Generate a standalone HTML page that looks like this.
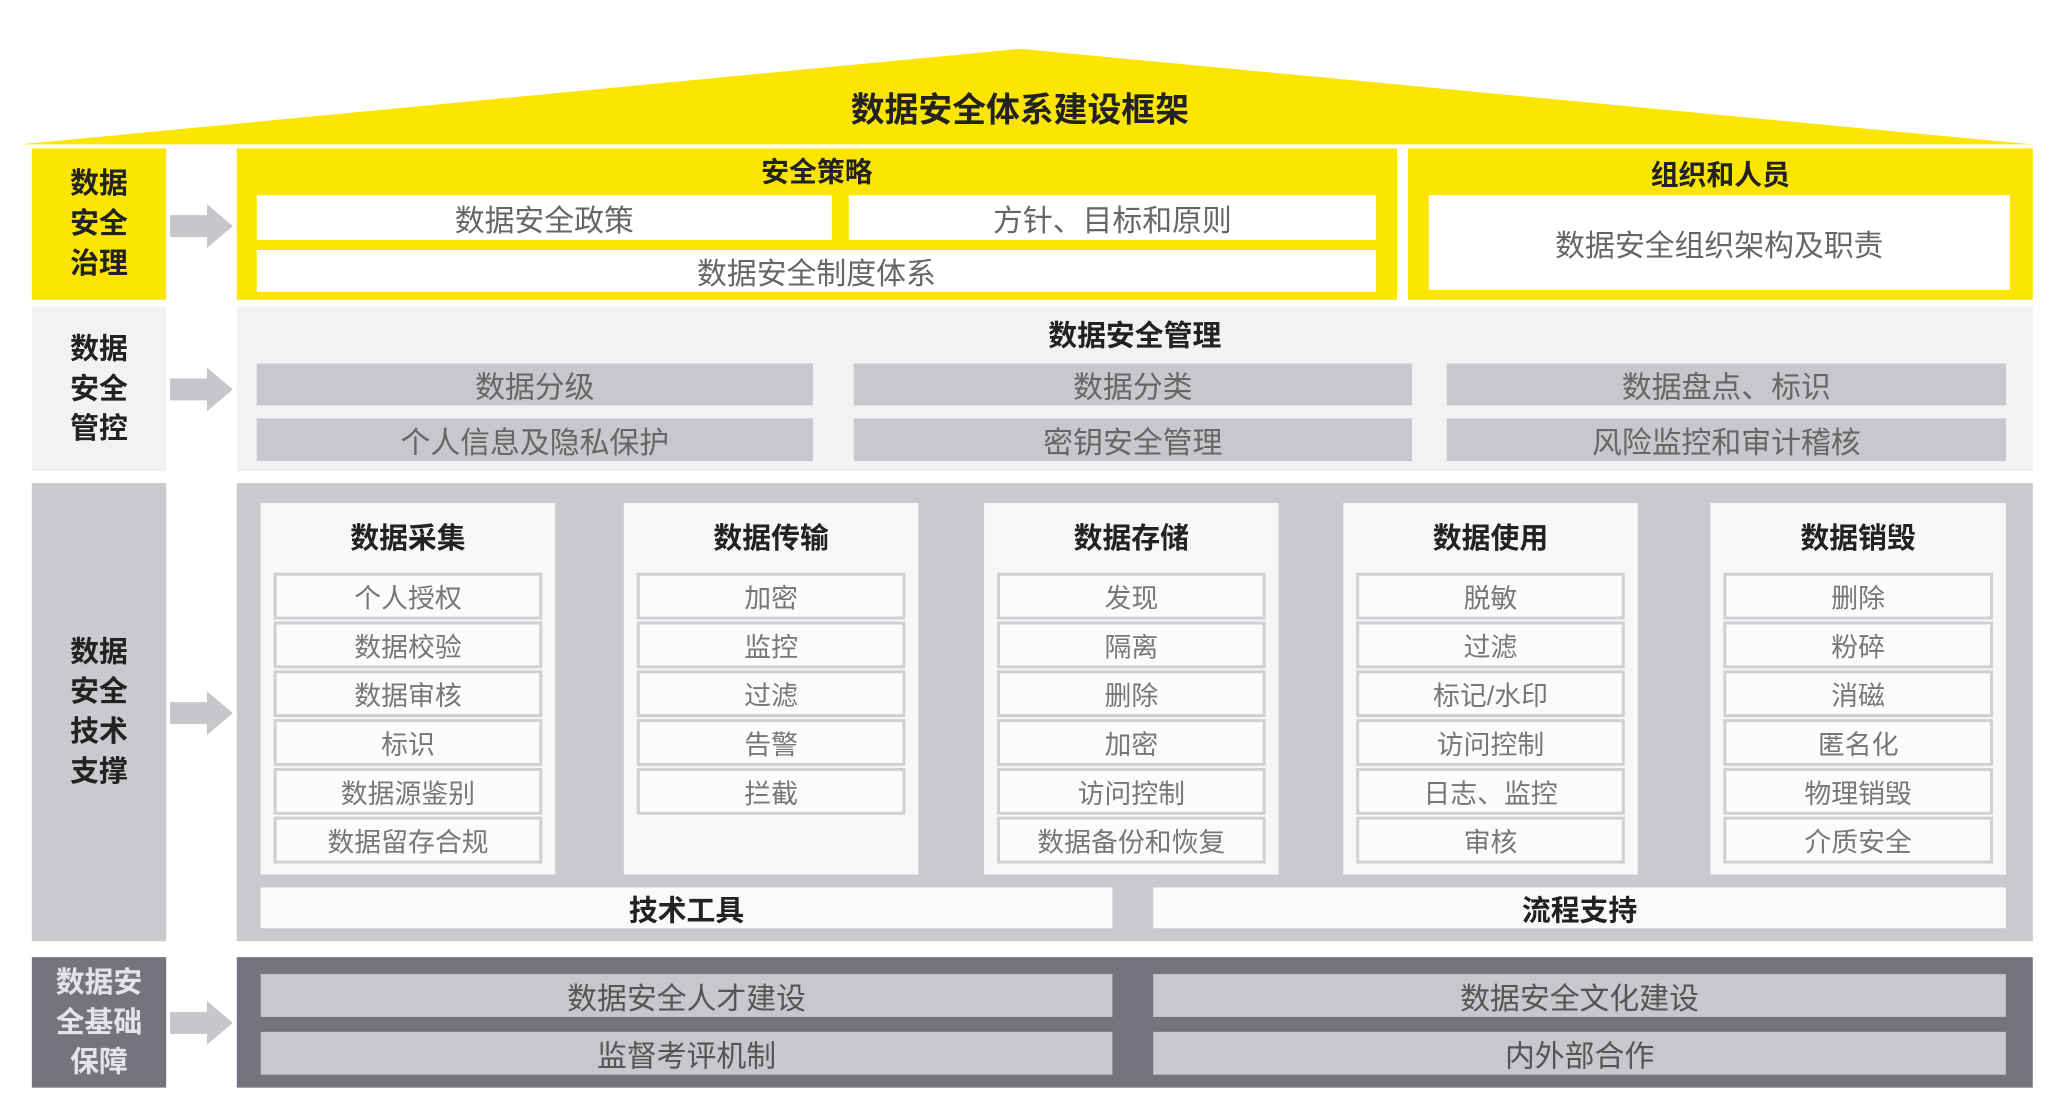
<!DOCTYPE html>
<html><head><meta charset="utf-8"><style>
body{margin:0;width:2063px;height:1111px;background:#fff;position:relative;overflow:hidden;font-family:"Liberation Sans","Noto Sans CJK SC",sans-serif}
#wrap{position:absolute;left:0;top:0;width:2063px;height:1111px;transform:scale(0.995,0.996);transform-origin:0 0;display:block}
#wrap div{position:absolute;box-sizing:border-box;display:flex;align-items:center;justify-content:center;text-align:center}
.lab{left:32px;width:135px;font-size:29px;font-weight:bold;line-height:40px;color:#222}
.w{background:#fff;color:#666;font-size:30px}
.g{background:#c7c7cc;color:#666;font-size:30px}
.t{font-weight:bold;font-size:29px;color:#222}
.st{background:#f7f7f8;top:505px;height:373px}
.c{background:#fbfbfb;border:3px solid #d0d0d4;height:47px;font-size:27px;color:#777}
</style></head><body><div id="wrap">
<svg style="position:absolute;left:0;top:0" width="2063" height="1111">
<polygon points="20,145 1025,49 2043,145" fill="#fce500"/>
<g fill="#c6c6cb">
<rect x="171" y="216" width="40" height="22"/><polygon points="208,205 234,227 208,249"/>
<rect x="171" y="380" width="40" height="22"/><polygon points="208,369 234,391 208,413"/>
<rect x="171" y="705" width="40" height="22"/><polygon points="208,694 234,716 208,738"/>
<rect x="171" y="1016" width="40" height="22"/><polygon points="208,1005 234,1027 208,1049"/>
</g>
<g fill="#6e6e76">
<polygon points="568,662 592,662 622,687 592,712 568,712 596,687"/>
<polygon points="928,662 952,662 982,687 952,712 928,712 956,687"/>
<polygon points="1290,662 1314,662 1344,687 1314,712 1290,712 1318,687"/>
<polygon points="1656,662 1680,662 1710,687 1680,712 1656,712 1684,687"/>
</g>
</svg>
<div style="left:700px;top:85px;width:650px;height:44px;font-size:34px;font-weight:bold;color:#222">数据安全体系建设框架</div>

<div class="lab" style="top:149px;height:152px;background:#fce500">数据<br>安全<br>治理</div>
<div class="lab" style="top:308px;height:165px;background:#f2f2f4">数据<br>安全<br>管控</div>
<div class="lab" style="top:485px;height:460px;background:#c9c9ce">数据<br>安全<br>技术<br>支撑</div>
<div class="lab" style="top:961px;height:131px;background:#74747c;color:#e4e4e8">数据安<br>全基础<br>保障</div>

<div style="left:238px;top:149px;width:1166px;height:152px;background:#fce500"></div>
<div class="t" style="left:238px;top:152px;width:1166px;height:38px;font-size:28px">安全策略</div>
<div class="w" style="left:258px;top:196px;width:578px;height:45px">数据安全政策</div>
<div class="w" style="left:853px;top:196px;width:530px;height:45px">方针、目标和原则</div>
<div class="w" style="left:258px;top:251px;width:1125px;height:42px">数据安全制度体系</div>
<div style="left:1415px;top:149px;width:628px;height:152px;background:#fce500"></div>
<div class="t" style="left:1415px;top:155px;width:628px;height:38px;font-size:28px">组织和人员</div>
<div class="w" style="left:1436px;top:196px;width:584px;height:95px">数据安全组织架构及职责</div>

<div style="left:238px;top:308px;width:1805px;height:165px;background:#f2f2f4"></div>
<div class="t" style="left:238px;top:315px;width:1805px;height:40px">数据安全管理</div>
<div class="g" style="left:258px;top:365px;width:559px;height:42px">数据分级</div>
<div class="g" style="left:858px;top:365px;width:561px;height:42px">数据分类</div>
<div class="g" style="left:1454px;top:365px;width:562px;height:42px">数据盘点、标识</div>
<div class="g" style="left:258px;top:420px;width:559px;height:43px">个人信息及隐私保护</div>
<div class="g" style="left:858px;top:420px;width:561px;height:43px">密钥安全管理</div>
<div class="g" style="left:1454px;top:420px;width:562px;height:43px">风险监控和审计稽核</div>

<div style="left:238px;top:485px;width:1805px;height:460px;background:#c9c9ce"></div>
<div class="st" style="left:262px;width:296px"></div>
<div class="st" style="left:627px;width:296px"></div>
<div class="st" style="left:989px;width:296px"></div>
<div class="st" style="left:1350px;width:296px"></div>
<div class="st" style="left:1719px;width:297px"></div>
<div class="t" style="left:262px;top:518px;width:296px;height:40px">数据采集</div>
<div class="t" style="left:627px;top:518px;width:296px;height:40px">数据传输</div>
<div class="t" style="left:989px;top:518px;width:296px;height:40px">数据存储</div>
<div class="t" style="left:1350px;top:518px;width:296px;height:40px">数据使用</div>
<div class="t" style="left:1719px;top:518px;width:297px;height:40px">数据销毁</div>

<div class="c" style="left:275px;top:575px;width:270px">个人授权</div>
<div class="c" style="left:275px;top:624px;width:270px">数据校验</div>
<div class="c" style="left:275px;top:673px;width:270px">数据审核</div>
<div class="c" style="left:275px;top:722px;width:270px">标识</div>
<div class="c" style="left:275px;top:771px;width:270px">数据源鉴别</div>
<div class="c" style="left:275px;top:820px;width:270px">数据留存合规</div>

<div class="c" style="left:640px;top:575px;width:270px">加密</div>
<div class="c" style="left:640px;top:624px;width:270px">监控</div>
<div class="c" style="left:640px;top:673px;width:270px">过滤</div>
<div class="c" style="left:640px;top:722px;width:270px">告警</div>
<div class="c" style="left:640px;top:771px;width:270px">拦截</div>

<div class="c" style="left:1002px;top:575px;width:270px">发现</div>
<div class="c" style="left:1002px;top:624px;width:270px">隔离</div>
<div class="c" style="left:1002px;top:673px;width:270px">删除</div>
<div class="c" style="left:1002px;top:722px;width:270px">加密</div>
<div class="c" style="left:1002px;top:771px;width:270px">访问控制</div>
<div class="c" style="left:1002px;top:820px;width:270px">数据备份和恢复</div>

<div class="c" style="left:1363px;top:575px;width:270px">脱敏</div>
<div class="c" style="left:1363px;top:624px;width:270px">过滤</div>
<div class="c" style="left:1363px;top:673px;width:270px">标记/水印</div>
<div class="c" style="left:1363px;top:722px;width:270px">访问控制</div>
<div class="c" style="left:1363px;top:771px;width:270px">日志、监控</div>
<div class="c" style="left:1363px;top:820px;width:270px">审核</div>

<div class="c" style="left:1732px;top:575px;width:271px">删除</div>
<div class="c" style="left:1732px;top:624px;width:271px">粉碎</div>
<div class="c" style="left:1732px;top:673px;width:271px">消磁</div>
<div class="c" style="left:1732px;top:722px;width:271px">匿名化</div>
<div class="c" style="left:1732px;top:771px;width:271px">物理销毁</div>
<div class="c" style="left:1732px;top:820px;width:271px">介质安全</div>

<div class="t" style="left:262px;top:891px;width:856px;height:41px;background:#fafafa">技术工具</div>
<div class="t" style="left:1159px;top:891px;width:857px;height:41px;background:#fafafa">流程支持</div>

<div style="left:238px;top:961px;width:1805px;height:131px;background:#74747c"></div>
<div class="g" style="left:262px;top:978px;width:856px;height:43px;color:#555">数据安全人才建设</div>
<div class="g" style="left:1159px;top:978px;width:857px;height:43px;color:#555">数据安全文化建设</div>
<div class="g" style="left:262px;top:1036px;width:856px;height:43px;color:#555">监督考评机制</div>
<div class="g" style="left:1159px;top:1036px;width:857px;height:43px;color:#555">内外部合作</div>
</div></body></html>
